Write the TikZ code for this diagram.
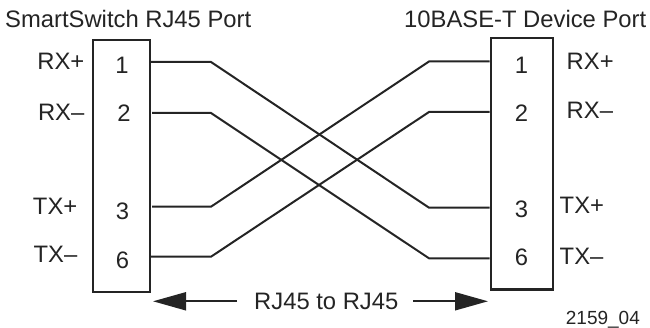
\documentclass[tikz,border=0pt]{standalone}
\usepackage{fontspec}
\setmainfont{Liberation Sans}
\usepackage{tikz}
\usetikzlibrary{arrows.meta}
\definecolor{inkgray}{gray}{0.14}
\tikzstyle{port} = [rectangle, draw=inkgray, line width=2.2pt, inner sep=0pt, anchor=north west]
\tikzstyle{pin} = [font=\fontsize{23.8}{28}\selectfont, text=inkgray, inner sep=0pt, anchor=base]
\tikzstyle{sigright} = [font=\fontsize{23.8}{28}\selectfont, text=inkgray, inner sep=0pt, anchor=base east]
\tikzstyle{sigleft} = [font=\fontsize{23.8}{28}\selectfont, text=inkgray, inner sep=0pt, anchor=base west]
\tikzstyle{figid} = [font=\fontsize{19}{23}\selectfont, text=inkgray, inner sep=0pt, anchor=base west]
\tikzstyle{wire} = [draw=inkgray, line width=2pt, line join=miter]
\tikzstyle{arrow} = [draw=inkgray, line width=2pt, -{Triangle[length=33pt,width=18pt,fill=inkgray]}]

\begin{document}
\begin{tikzpicture}[x=1pt,y=-1pt]
\useasboundingbox (0,0) rectangle (650,328);

\node (leftport) [port, minimum width=57pt, minimum height=252pt] at (92,39) {};
\node (rightport) [port, minimum width=62.5pt, minimum height=251.5pt] at (489.5,37) {};

\node (lefttitle) [sigleft] at (5,27.3) {SmartSwitch RJ45 Port};
\node (righttitle) [sigleft] at (404,27.3) {10BASE-T Device Port};

\node (lrxp) [sigright] at (84.5,70) {RX+};
\node (lrxm) [sigright] at (84.5,120.7) {RX--};
\node (ltxp) [sigright] at (77.5,214.7) {TX+};
\node (ltxm) [sigright] at (77.5,262.7) {TX--};
\node (rrxp) [sigleft] at (566.5,70) {RX+};
\node (rrxm) [sigleft] at (566.5,119) {RX--};
\node (rtxp) [sigleft] at (559.5,214) {TX+};
\node (rtxm) [sigleft] at (559.5,264.7) {TX--};

\node (lpin1) [pin] at (122,74) {1};
\node (lpin2) [pin] at (124,122) {2};
\node (lpin3) [pin] at (122.5,220) {3};
\node (lpin6) [pin] at (122.5,268.5) {6};
\node (rpin1) [pin] at (521.5,74) {1};
\node (rpin2) [pin] at (521.5,121.7) {2};
\node (rpin3) [pin] at (521.5,217.3) {3};
\node (rpin6) [pin] at (521.5,266) {6};

% wire ends and bends
\coordinate (la1) at (151,62);
\coordinate (lb1) at (211,62);
\coordinate (la2) at (152,113);
\coordinate (lb2) at (211,113);
\coordinate (la3) at (152,206.7);
\coordinate (lb3) at (211,206.7);
\coordinate (la6) at (151,256.7);
\coordinate (lb6) at (211,256.7);
\coordinate (rb1) at (429,61.5);
\coordinate (ra1) at (489.5,61.5);
\coordinate (rb2) at (429,112);
\coordinate (ra2) at (489.5,112);
\coordinate (rb3) at (429,207.7);
\coordinate (ra3) at (489.5,207.7);
\coordinate (rb6) at (429,258.3);
\coordinate (ra6) at (489.5,258.3);

\draw [wire] (la1) -- (lb1) -- (rb3) -- (ra3);
\draw [wire] (la2) -- (lb2) -- (rb6) -- (ra6);
\draw [wire] (la3) -- (lb3) -- (rb1) -- (ra1);
\draw [wire] (la6) -- (lb6) -- (rb2) -- (ra2);

\node (cable) [sigleft, inner xsep=0pt] at (254,309.3) {RJ45 to RJ45};
\coordinate (cableleft) at (237,301.3);
\coordinate (cableright) at (413,301.3);
\coordinate (tipleft) at (153,301.3);
\coordinate (tipright) at (488,301.3);
\draw [arrow] (cableleft) -- (tipleft);
\draw [arrow] (cableright) -- (tipright);

\node (figno) [figid] at (565.7,324) {2159\_04};
\end{tikzpicture}
\end{document}
